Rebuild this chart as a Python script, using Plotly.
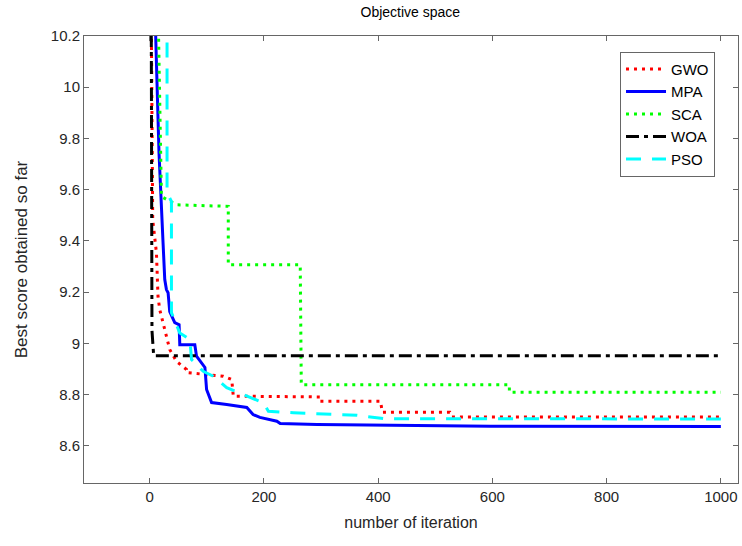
import plotly.graph_objects as go

# ---- data ----
gwo_x = [1, 3, 5.3, 11.8, 14.6, 17.6, 26.4, 35.1, 46.9, 64.5, 64.5, 128.8, 143.6, 146.4, 298.8, 298.8, 404.2, 407.2, 525.5, 529, 1000]
gwo_y = [12.0, 10.2, 9.483, 9.354, 9.182, 9.132, 9.054, 8.976, 8.93, 8.898, 8.886, 8.872, 8.859, 8.794, 8.791, 8.774, 8.774, 8.731, 8.731, 8.713, 8.713]

mpa_x = [1, 10.5, 16.3, 20.6, 23.4, 26.4, 29.3, 32.2, 35.1, 43.9, 51.5, 52.7, 79, 82, 96.7, 99.6, 108.4, 134.8, 170, 181, 193, 222.7, 228.5, 293, 422, 597.5, 1000]
mpa_y = [12.0, 10.2, 9.744, 9.561, 9.393, 9.249, 9.21, 9.198, 9.124, 9.081, 9.073, 8.995, 8.995, 8.95, 8.906, 8.82, 8.769, 8.761, 8.75, 8.722, 8.711, 8.696, 8.687, 8.683, 8.68, 8.677, 8.676]

sca_x = [1, 14.6, 20.6, 46.9, 137.6, 137.6, 263.6, 265.4, 629.7, 629.7, 1000]
sca_y = [12.0, 10.2, 9.573, 9.541, 9.535, 9.307, 9.307, 8.839, 8.839, 8.809, 8.809]

woa_x = [1, 2, 3, 4, 7, 1000]
woa_y = [12.0, 10.5, 9.6, 9.05, 8.952, 8.952]

pso_x = [1, 30.4, 30.4, 38.1, 38.1, 52.7, 70.3, 73.3, 93.7, 111.2, 134.8, 170, 199, 207.9, 251.8, 363.3, 410, 1000]
pso_y = [12.0, 10.2, 9.588, 9.554, 9.12, 9.041, 9.015, 8.937, 8.891, 8.872, 8.827, 8.794, 8.768, 8.735, 8.729, 8.719, 8.706, 8.705]

x_ticks = [0, 200, 400, 600, 800, 1000]
y_ticks = [8.6, 8.8, 9.0, 9.2, 9.4, 9.6, 9.8, 10.0, 10.2]
y_ticktext = ["8.6", "8.8", "9", "9.2", "9.4", "9.6", "9.8", "10", "10.2"]

FONT = "Liberation Sans, Arial, sans-serif"

fig = go.Figure()
fig.add_trace(go.Scatter(x=gwo_x, y=gwo_y, mode="lines", name="GWO",
                         line=dict(color="#ff0000", width=3, dash="3px,5px")))
fig.add_trace(go.Scatter(x=mpa_x, y=mpa_y, mode="lines", name="MPA",
                         line=dict(color="#0000ff", width=3)))
fig.add_trace(go.Scatter(x=sca_x, y=sca_y, mode="lines", name="SCA",
                         line=dict(color="#00ff00", width=3, dash="3px,5px")))
fig.add_trace(go.Scatter(x=woa_x, y=woa_y, mode="lines", name="WOA",
                         line=dict(color="#000000", width=3, dash="13px,5px,4px,5px")))
fig.add_trace(go.Scatter(x=pso_x, y=pso_y, mode="lines", name="PSO",
                         line=dict(color="#00ffff", width=3, dash="15px,11px")))

axis_common = dict(
    showline=True, linecolor="#666666", linewidth=1, mirror="ticks",
    ticks="inside", ticklen=5, tickcolor="#666666",
    showgrid=False, zeroline=False,
    tickfont=dict(family=FONT, size=15, color="#262626"),
)

fig.update_layout(
    width=742, height=546,
    margin=dict(l=84, r=4, t=36, b=63),
    paper_bgcolor="white", plot_bgcolor="white",
    font=dict(family=FONT, color="#262626"),
    title=dict(text="Objective space", x=0.553, xanchor="center",
               y=1 - 12 / 546, yanchor="middle", yref="container",
               font=dict(family=FONT, size=14, color="#000000")),
    xaxis=dict(range=[-115, 1030], tickvals=x_ticks,
               title=dict(text="number of iteration", standoff=12,
                          font=dict(family=FONT, size=16, color="#262626")),
               **axis_common),
    yaxis=dict(range=[8.455, 10.2], tickvals=y_ticks, ticktext=y_ticktext,
               title=dict(text="Best score obtained so far", standoff=18,
                          font=dict(family=FONT, size=17, color="#262626")),
               **axis_common),
    showlegend=True,
    legend=dict(x=0.8196, y=0.965, xanchor="left", yanchor="top",
                bgcolor="white", bordercolor="#666666", borderwidth=1,
                font=dict(family=FONT, size=15, color="#000000"),
                itemwidth=40, tracegroupgap=0),
)

fig.write_html("out.html", config={"displayModeBar": False},
               post_script="document.body.style.margin='0';")
